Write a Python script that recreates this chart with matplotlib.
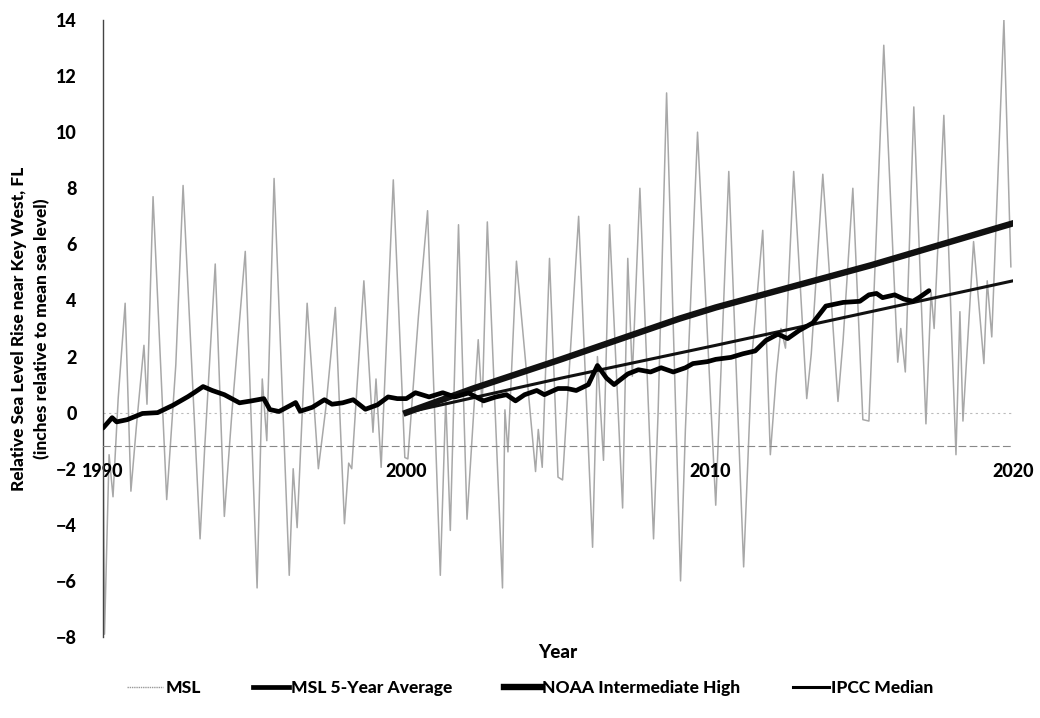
import matplotlib.pyplot as plt
from matplotlib.lines import Line2D

plt.rcParams['font.family'] = ['Lato', 'DejaVu Sans']
plt.rcParams['font.weight'] = 'black'
W = 'black'

# monthly mean sea level, digitised peaks / troughs (decimal year, inches)
msl_t = [1990.00, 1990.05, 1990.20, 1990.33, 1990.50, 1990.73, 1990.92, 1991.10, 1991.35, 1991.45,
         1991.65, 1992.10, 1992.40, 1992.64, 1993.20, 1993.35, 1993.70, 1994.00, 1994.25, 1994.69,
         1995.08, 1995.25, 1995.40, 1995.64, 1996.14, 1996.27, 1996.40, 1996.73, 1997.10, 1997.35,
         1997.66, 1997.96, 1998.10, 1998.20, 1998.60, 1998.90, 1999.00, 1999.17, 1999.57, 1999.95,
         2000.05, 2000.40, 2000.70, 2001.12, 2001.30, 2001.45, 2001.72, 2002.00, 2002.37, 2002.50,
         2002.67, 2003.17, 2003.25, 2003.35, 2003.63, 2004.26, 2004.35, 2004.48, 2004.72, 2005.00,
         2005.15, 2005.68, 2006.14, 2006.30, 2006.50, 2006.70, 2007.13, 2007.30, 2007.45, 2007.70,
         2008.15, 2008.30, 2008.58, 2009.04, 2009.20, 2009.60, 2010.20, 2010.63, 2011.12, 2011.40,
         2011.75, 2012.00, 2012.20, 2012.35, 2012.50, 2012.77, 2013.20, 2013.35, 2013.73, 2014.23,
         2014.40, 2014.72, 2015.05, 2015.25, 2015.74, 2016.20, 2016.30, 2016.45, 2016.73, 2017.13,
         2017.30, 2017.40, 2017.72, 2018.12, 2018.25, 2018.35, 2018.70, 2019.04, 2019.15, 2019.30,
         2019.70, 2019.93]
msl_v = [-0.5, -7.9, -1.5, -3.0, 0.5, 3.9, -2.8, -0.5, 2.4, 0.3,
         7.7, -3.1, 1.7, 8.1, -4.5, -1.3, 5.3, -3.7, 0.0, 5.75,
         -6.25, 1.2, -1.0, 8.35, -5.8, -2.0, -4.1, 3.9, -2.0, 0.2,
         3.75, -3.96, -1.8, -2.0, 4.7, -0.7, 1.2, -1.95, 8.3, -1.6,
         -1.65, 3.45, 7.2, -5.8, 0.5, -4.2, 6.7, -3.8, 2.6, 0.2,
         6.8, -6.25, 0.1, -1.4, 5.4, -2.1, -0.6, -1.95, 5.5, -2.3,
         -2.4, 7.0, -4.8, 2.0, -1.7, 6.7, -3.4, 5.5, 1.3, 8.0,
         -4.5, 0.0, 11.4, -6.0, -0.6, 10.0, -3.3, 8.6, -5.5, 2.1,
         6.5, -1.5, 1.4, 3.0, 2.3, 8.6, 0.5, 2.1, 8.5, 0.4,
         2.6, 8.0, -0.25, -0.3, 13.1, 1.8, 3.0, 1.45, 10.9, -0.4,
         4.3, 3.0, 10.6, -1.5, 3.6, -0.3, 6.1, 1.75, 4.7, 2.7,
         14.0, 5.2]

# 5-year running average
avg_t = [1990.0, 1990.3, 1990.45, 1990.8, 1991.3, 1991.8, 1992.3, 1992.8, 1993.0, 1993.3,
         1993.6, 1994.0, 1994.5, 1994.9, 1995.3, 1995.5, 1995.8, 1996.2, 1996.35, 1996.5,
         1996.9, 1997.3, 1997.55, 1997.9, 1998.25, 1998.65, 1999.05, 1999.4, 1999.7, 2000.0,
         2000.3, 2000.75, 2001.2, 2001.6, 2002.05, 2002.4, 2002.55, 2002.95, 2003.3, 2003.6,
         2003.9, 2004.3, 2004.55, 2005.0, 2005.3, 2005.6, 2006.0, 2006.3, 2006.6, 2006.85,
         2007.3, 2007.65, 2008.05, 2008.4, 2008.8, 2009.2, 2009.45, 2009.93, 2010.2, 2010.7,
         2011.1, 2011.5, 2011.85, 2012.25, 2012.57, 2012.95, 2013.4, 2013.83, 2014.4, 2014.95,
         2015.25, 2015.5, 2015.7, 2016.1, 2016.4, 2016.7, 2016.9, 2017.23]
avg_v = [-0.55, -0.18, -0.33, -0.25, -0.03, 0.0, 0.26, 0.57, 0.71, 0.93,
         0.79, 0.64, 0.35, 0.42, 0.5, 0.11, 0.04, 0.27, 0.36, 0.05,
         0.19, 0.46, 0.3, 0.35, 0.46, 0.12, 0.28, 0.56, 0.5, 0.5,
         0.71, 0.56, 0.71, 0.56, 0.7, 0.5, 0.42, 0.56, 0.64, 0.42,
         0.64, 0.79, 0.64, 0.86, 0.86, 0.79, 1.0, 1.68, 1.23, 1.0,
         1.38, 1.53, 1.45, 1.6, 1.45, 1.6, 1.75, 1.82, 1.9, 1.97,
         2.1, 2.2, 2.57, 2.8, 2.64, 2.93, 3.2, 3.8, 3.93, 3.97,
         4.2, 4.25, 4.1, 4.2, 4.05, 3.97, 4.1, 4.35]

# projections
noaa_t = [2000.0, 2002.2, 2005.1, 2009.0, 2010.2, 2015.3, 2020.0]
noaa_v = [0.0, 0.86, 1.9, 3.35, 3.75, 5.25, 6.75]
ipcc_t = [2000.0, 2005.1, 2010.2, 2020.0]
ipcc_v = [0.0, 1.23, 2.4, 4.7]

x_ticks = [1990, 2000, 2010, 2020]
y_ticks = list(range(-8, 16, 2))

fig = plt.figure(figsize=(10.4, 7.18), dpi=100)
ax = fig.add_axes([103/1040, 1 - 637/718, 910/1040, 617/718])

ax.axhline(0, color='#bbbbbb', lw=0.8, ls=(0, (2, 3)), zorder=0)
ax.plot(msl_t, msl_v, color='#a8a8a8', lw=1.1, zorder=1)
ax.plot(avg_t, avg_v, color='black', lw=3.4, solid_capstyle='round', zorder=3)
ax.plot(noaa_t, noaa_v, color='#111111', lw=4.6, zorder=2)
ax.plot(ipcc_t, ipcc_v, color='#111111', lw=2.2, zorder=2)

ax.set_xlim(1990, 2020)
ax.set_ylim(-8, 14)
ax.set_xticks(x_ticks)
ax.set_yticks(y_ticks)

for s in ['top', 'right']:
    ax.spines[s].set_visible(False)
ax.spines['left'].set_color('#444444')
ax.spines['left'].set_linewidth(1.0)
ax.spines['bottom'].set_position(('data', -1.2))
ax.spines['bottom'].set_color('#888888')
ax.spines['bottom'].set_linewidth(0.8)
ax.spines['bottom'].set_linestyle((0, (6, 4)))

ax.tick_params(axis='y', length=0, pad=19, labelsize=13)
ax.tick_params(axis='x', length=0, pad=12, labelsize=13)
for lab in ax.get_xticklabels() + ax.get_yticklabels():
    lab.set_fontweight(W)

ax.set_ylabel('Relative Sea Level Rise near Key West, FL\n(inches relative to mean sea level)',
              fontsize=12.5, fontweight=W, linespacing=1.55)
ax.yaxis.set_label_coords(-0.058, 0.5)
fig.text(558/1040, 1 - 652/718, 'Year', ha='center', va='center', fontsize=13.5, fontweight=W)

handles = [Line2D([], [], color='#9a9a9a', lw=1.0, ls=(0, (1, 0.6))),
           Line2D([], [], color='black', lw=3.4),
           Line2D([], [], color='black', lw=4.6),
           Line2D([], [], color='black', lw=2.2)]
labels = ['MSL', 'MSL 5-Year Average', 'NOAA Intermediate High', 'IPCC Median']
fig.legend(handles, labels, loc='center', bbox_to_anchor=(530/1040, 1 - 688/718), ncol=4,
           frameon=False, handlelength=2.1, handletextpad=0.1, columnspacing=3.0,
           prop={'size': 12.5, 'weight': W})

plt.savefig('out.png', dpi=100)
